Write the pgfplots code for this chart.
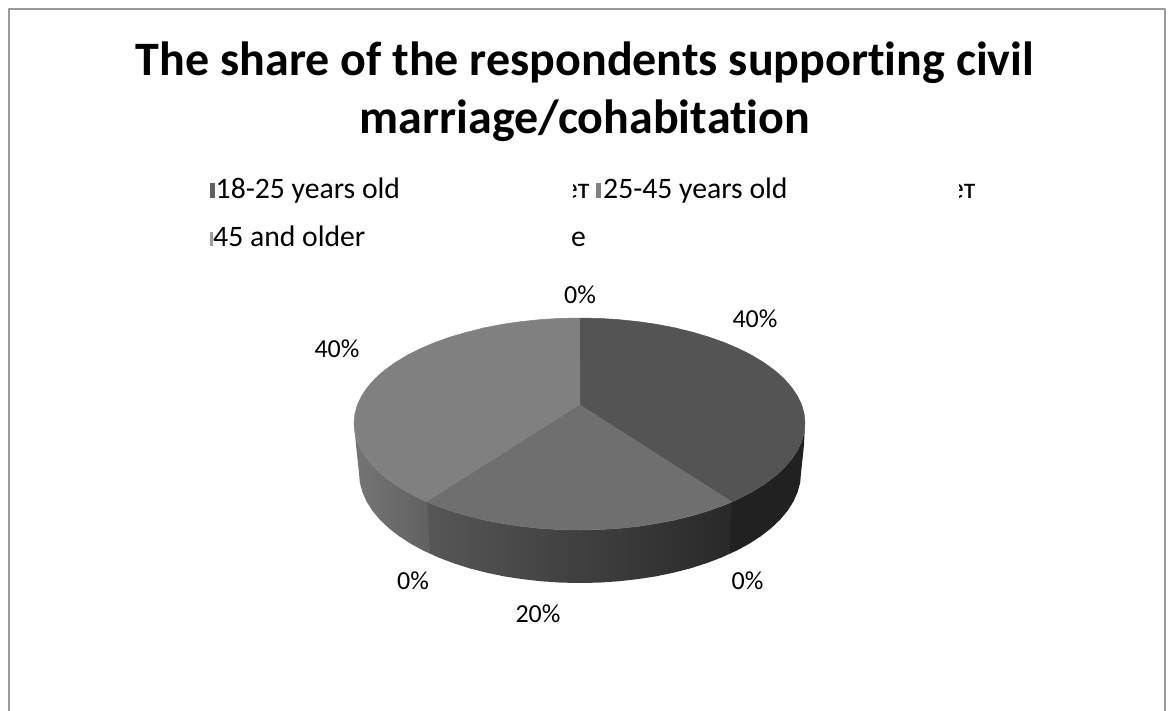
\documentclass[border=0pt]{standalone}
\usepackage{pgfplots}
\pgfplotsset{compat=1.18}
\usepackage{fontspec}
\setmainfont[Ligatures=CommonOff]{Carlito}
\definecolor{sliceA}{HTML}{545454}
\definecolor{sliceB}{HTML}{6F6F6F}
\definecolor{sliceC}{HTML}{808080}
\begin{document}
\begin{tikzpicture}
\begin{axis}[
  scale only axis, width=1170pt, height=710pt,
  xmin=0, xmax=1170, ymin=0, ymax=710, y dir=reverse,
  axis lines=none, clip=true,
  every axis plot/.append style={line width=0.5pt, mark=none, line join=round},
]
% frame
\addplot[draw=gray!80, line width=2.2pt] coordinates {(9,712) (9,9) (1165,9) (1165,712)};
% side: middle
\addplot[draw=none, left color=black!66, right color=black!84] coordinates {
(426,501.5) (434.5,505) (450.2,510.7) (467.2,515.7) (484.2,520) (502.4,523.5) (521.1,526.4) (540.4,528.4) (559.8,529.6) (579.5,530)
(599.2,529.6) (618.6,528.4) (637.9,526.4) (656.6,523.5) (674.8,520) (692.3,515.7) (708.8,510.7) (724.5,505) (733,501.5)
(731.2,553) (722,557.3) (706.8,563.1) (690.5,568.3) (673.4,572.7) (655.6,576.4) (637.2,579.2) (618.4,581.3) (599.3,582.6) (580,583)
(560.7,582.6) (541.6,581.3) (522.8,579.2) (504.4,576.4) (486.6,572.7) (469.5,568.3) (453.2,563.1) (438,557.3) (428.8,553)} --cycle;
% side: left
\addplot[draw=none, left color=black!54, right color=black!62] coordinates {
(354,423) (354.9,432.3) (357.4,441.6) (361.7,450.7) (367.6,459.6) (375.1,468.2) (384.2,476.5) (394.8,484.4) (406.8,491.8) (420,498.7) (427.2,501.9)
(430,553.5) (423.7,550.8) (410.7,543.7) (399,536.1) (388.6,528) (379.7,519.5) (372.3,510.6) (366.5,501.5) (362.4,492.1) (359.8,482.6) (359,473) (356,445)} --cycle;
% side: right
\addplot[draw=none, fill=black!87] coordinates {
(731.8,501.9) (739,498.7) (752.2,491.8) (764.2,484.4) (774.8,476.5) (783.9,468.2) (791.4,459.6) (797.3,450.7) (801.6,441.6) (804.1,432.3) (805,423)
(804,445) (801,473) (800.2,482.6) (797.6,492.1) (793.5,501.5) (787.7,510.6) (780.3,519.5) (771.4,528) (761,536.1) (749.3,543.7) (736.3,550.8) (730,553.5)} --cycle;
% top: right slice (40%)
\addplot[draw=sliceA, fill=sliceA] coordinates {
(580,405) (579.5,318) (599.2,318.4) (618.6,319.6) (637.9,321.6) (656.6,324.3) (674.8,327.8) (692.3,332.1) (708.8,337) (724.5,342.6) (739,348.8) (752.2,355.5) (764.2,362.8) (774.8,370.5) (783.9,378.6) (791.4,387.1) (797.3,395.8) (801.6,404.8) (804.1,413.8) (805,423)
(804.1,432.3) (801.6,441.6) (797.3,450.7) (791.4,459.6) (783.9,468.2) (774.8,476.5) (764.2,484.4) (752.2,491.8) (739,498.7) (731.8,501.9)} --cycle;
% top: left slice (40%)
\addplot[draw=sliceC, fill=sliceC] coordinates {
(580,405) (427.2,501.9) (420,498.7) (406.8,491.8) (394.8,484.4) (384.2,476.5) (375.1,468.2) (367.6,459.6) (361.7,450.7) (357.4,441.6) (354.9,432.3) (354,423)
(354.9,413.8) (357.4,404.8) (361.7,395.8) (367.6,387.1) (375.1,378.6) (384.2,370.5) (394.8,362.8) (406.8,355.5) (420,348.8) (434.5,342.6) (450.2,337) (467.2,332.1) (484.2,327.8) (502.4,324.3) (521.1,321.6) (540.4,319.6) (559.8,318.4) (579.5,318)} --cycle;
% top: middle slice (20%)
\addplot[draw=sliceB, fill=sliceB] coordinates {
(580,405) (731.8,501.9) (724.5,505) (708.8,510.7) (692.3,515.7) (674.8,520) (656.6,523.5) (637.9,526.4) (618.6,528.4) (599.2,529.6) (579.5,530)
(559.8,529.6) (540.4,528.4) (521.1,526.4) (502.4,523.5) (484.2,520) (467.2,515.7) (450.2,510.7) (434.5,505) (427.2,501.9)} --cycle;
% legend keys
\addplot[draw=none, fill=black!62] coordinates {(210,183) (214.5,183) (214.5,198) (210,198)} --cycle;
\addplot[draw=none, fill=black!50] coordinates {(596,183) (600.5,183) (600.5,198) (596,198)} --cycle;
\addplot[draw=none, fill=black!38] coordinates {(210,232) (213,232) (213,246) (210,246)} --cycle;
% title
\node[anchor=base, font=\fontsize{48}{56}\selectfont\bfseries] at (axis cs:585,75) {The share of the respondents supporting civil};
\node[anchor=base, font=\fontsize{48}{56}\selectfont\bfseries] at (axis cs:585,133) {marriage/cohabitation};
% legend text
\node[anchor=base west, inner sep=0pt, font=\fontsize{29.7}{36}\selectfont] at (axis cs:215.5,198) {18-25 years old};
\node[anchor=base west, inner sep=0pt, font=\fontsize{29.7}{36}\selectfont] at (axis cs:603,198) {25-45 years old};
\node[anchor=base west, inner sep=0pt, font=\fontsize{29.7}{36}\selectfont] at (axis cs:213,246) {45 and older};
\begin{scope}
\clip (axis cs:573,170) rectangle (axis cs:592,210);
\node[anchor=base east, inner sep=0pt, font=\fontsize{29.7}{36}\selectfont] at (axis cs:589.5,198) {лет};
\end{scope}
\begin{scope}
\clip (axis cs:959,170) rectangle (axis cs:980,210);
\node[anchor=base east, inner sep=0pt, font=\fontsize{29.7}{36}\selectfont] at (axis cs:975.5,198) {лет};
\end{scope}
\node[anchor=base west, inner sep=0pt, font=\fontsize{29.7}{36}\selectfont] at (axis cs:571,246) {е};
% data labels
\foreach \x/\y/\t in {755/319/40\%, 580/295/0\%, 337/349/40\%, 413/581/0\%, 538/614/20\%, 747.5/581/0\%}{
  \edef\tmp{\noexpand\node[font=\noexpand\fontsize{26}{30}\noexpand\selectfont] at (axis cs:\x,\y) {\t};}
  \tmp
}
\end{axis}
\path (0,0) rectangle (1170pt,710pt);
\end{tikzpicture}
\end{document}
